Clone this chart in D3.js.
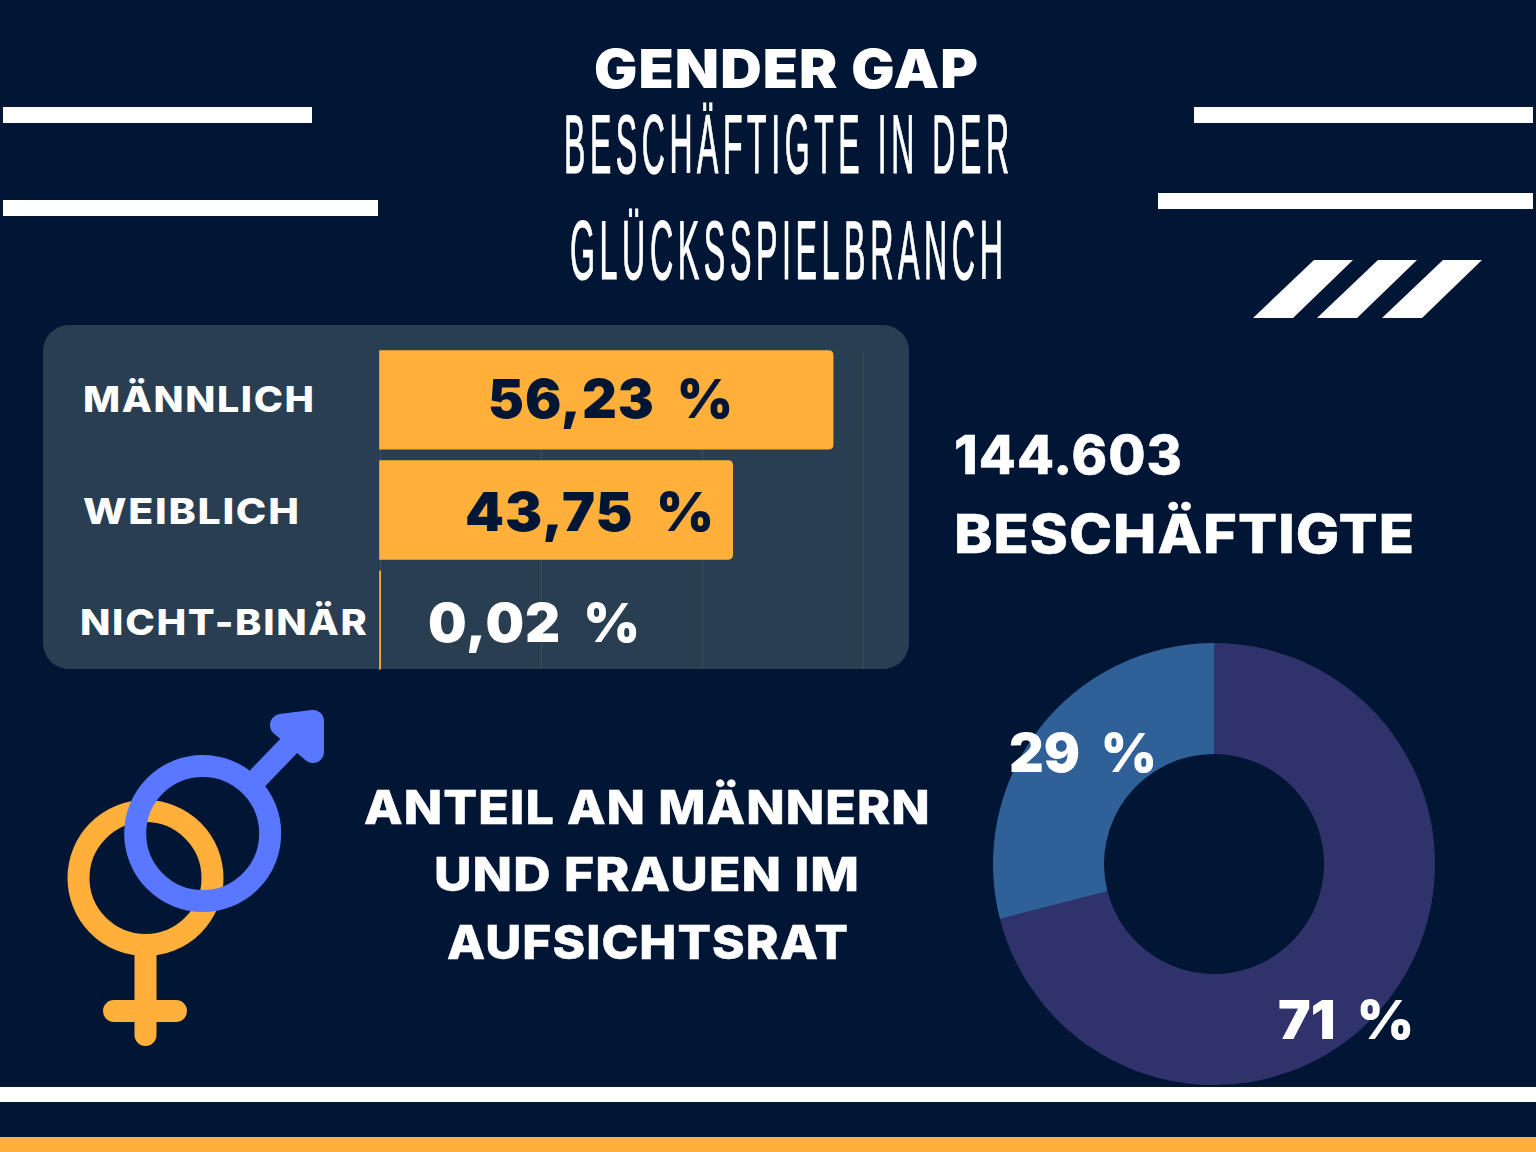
<!DOCTYPE html>
<html lang="de">
<head>
<meta charset="utf-8">
<title>Gender Gap</title>
<script src="https://cdn.jsdelivr.net/npm/d3@7/dist/d3.min.js"></script>
<style>
html,body{margin:0;padding:0;background:#011635}
svg{display:block}
</style>
</head>
<body>
<svg id="c" width="1536" height="1152" viewBox="0 0 1536 1152"></svg>
<script>
// Data
const categories = ["MÄNNLICH", "WEIBLICH", "NICHT-BINÄR"];
const shares = [56.23, 43.75, 0.02];
const shareLabels = ["56,23 %", "43,75 %", "0,02 %"];
const boardGroups = ["Männer", "Frauen"];
const boardShares = [71, 29];
const boardLabels = ["71 %", "29 %"];

// Style
const BG = "#011635", PANEL = "#293e51", ORANGE = "#ffb03b", WHITE = "#ffffff",
      BLUE = "#5a78ff", GRID = "#3a4e60", D_DARK = "#30336b", D_BLUE = "#2f6198";
const BOLD = "Inter, 'Open Sans', sans-serif";
const NARROW = "'Liberation Sans Narrow', 'Liberation Sans', sans-serif";

const svg = d3.select("#c");
svg.append("rect").attr("width", 1536).attr("height", 1152).attr("fill", BG);

// Fits a text between x0 and x1 by horizontal scaling, baseline at base.
function label(str, x0, x1, base, size, opt) {
  const o = opt || {};
  const ls = o.ls || 0;
  const t = svg.append("text").text(str)
    .attr("x", 0).attr("y", 0)
    .attr("font-family", o.font || BOLD).attr("font-weight", o.weight || 800)
    .attr("font-size", size).attr("fill", o.fill || WHITE);
  if (ls) t.style("letter-spacing", ls + "px");
  if (o.ws) t.style("word-spacing", o.ws + "px");
  if (o.sw) t.attr("stroke", o.fill || WHITE).attr("stroke-width", o.sw);
  const natural = t.node().getComputedTextLength() - ls;
  t.attr("transform", `translate(${x0},${base}) scale(${(x1 - x0) / natural},1)`);
  return t;
}

// Decorative strips
const strips = [[3,107,309,16],[3,200,375,16],[1194,107,339,16],[1158,193,375,16],[0,1087,1536,15]];
svg.selectAll("rect.strip").data(strips).join("rect").attr("class","strip")
  .attr("x", d=>d[0]).attr("y", d=>d[1]).attr("width", d=>d[2]).attr("height", d=>d[3]).attr("fill", WHITE);
svg.append("rect").attr("x",0).attr("y",1137).attr("width",1536).attr("height",15).attr("fill",ORANGE);
const slants = [1253, 1317, 1382];
svg.selectAll("path.slant").data(slants).join("path").attr("class","slant")
  .attr("d", d=>`M${d},318L${d+40},318L${d+100},260L${d+61},260Z`).attr("fill", WHITE);

// Titles
label("GENDER GAP", 594, 978, 88, 53, {weight:900, ls:1});
const narrowOpt = {font:NARROW, weight:400, sw:1.2, ls:12};
label("BESCHÄFTIGTE IN DER", 564, 1009, 173, 83, narrowOpt);
label("GLÜCKSSPIELBRANCH", 570, 1003, 279, 84, narrowOpt);

// Bar panel
svg.append("rect").attr("x",43).attr("y",325).attr("width",866).attr("height",344).attr("rx",26).attr("fill",PANEL);
const x = d3.scaleLinear().domain([0,60]).range([380,863]);
const y = d3.scaleBand().domain(categories).range([351,669]).paddingInner(0.113).paddingOuter(0);

const grid = svg.append("g").attr("transform","translate(0,669)")
  .call(d3.axisBottom(x).tickValues([0,20,40,60]).tickSize(-318).tickFormat(""));
grid.select(".domain").remove();
grid.selectAll("line").attr("stroke",GRID).attr("stroke-width",1);

svg.selectAll("path.bar").data(categories).join("path").attr("class","bar")
  .attr("d",(c,i)=>{
    const x0=x(0), x1=x(shares[i]), t=y(c), b=t+y.bandwidth(), r=Math.min(4,x1-x0);
    return `M${x0},${t}L${x1-r},${t}Q${x1},${t} ${x1},${t+r}L${x1},${b-r}Q${x1},${b} ${x1-r},${b}L${x0},${b}Z`;
  })
  .attr("fill",ORANGE).attr("stroke",ORANGE).attr("stroke-width",1.6);

const catPos = [[83,314,412],[83,299,524],[80,367,635]];
categories.forEach((c,i)=>label(c,catPos[i][0],catPos[i][1],catPos[i][2],36,{ls:1.5}));
const valPos = [[488,733,418,BG],[465,714,531,BG],[428,640,642,WHITE]];
shareLabels.forEach((s,i)=>label(s,valPos[i][0],valPos[i][1],valPos[i][2],54,{fill:valPos[i][3],weight:900,ws:10,ls:1}));

// Right text
const heavy = {weight:800, ls:1, sw:0.5};
label("144.603", 954, 1182, 474, 54, heavy);
label("BESCHÄFTIGTE", 954, 1414, 553, 54, heavy);
label("ANTEIL AN MÄNNERN", 364, 930, 824, 47, heavy);
label("UND FRAUEN IM", 434, 859, 891, 47, heavy);
label("AUFSICHTSRAT", 447, 848, 959, 47, heavy);

// Donut
const pie = d3.pie().sort(null)(boardShares);
const arc = d3.arc().innerRadius(110).outerRadius(221);
svg.append("g").attr("transform","translate(1214,864)")
  .selectAll("path").data(pie).join("path").attr("d",arc)
  .attr("fill",(d,i)=>[D_DARK,D_BLUE][i]);
label(boardLabels[0],1278,1414,1039,54,{weight:900,ws:10});
label(boardLabels[1],1009,1157,772,54,{weight:900,ws:10});

// Gender symbols
const f = svg.append("g").attr("fill","none").attr("stroke",ORANGE).attr("stroke-width",22).attr("stroke-linecap","round");
f.append("circle").attr("cx",145.5).attr("cy",878).attr("r",67);
f.append("path").attr("d","M145.5,945L145.5,1035M114,1011L176,1011");
const m = svg.append("g").attr("fill","none").attr("stroke",BLUE).attr("stroke-width",22).attr("stroke-linecap","round").attr("stroke-linejoin","round");
m.append("circle").attr("cx",202.7).attr("cy",833.5).attr("r",67.5);
m.append("path").attr("d","M255,781L305,729").attr("stroke-linecap","butt");
m.append("path").attr("d","M281,725L313,721L313,752Z").attr("fill",BLUE);
</script>
</body>
</html>
